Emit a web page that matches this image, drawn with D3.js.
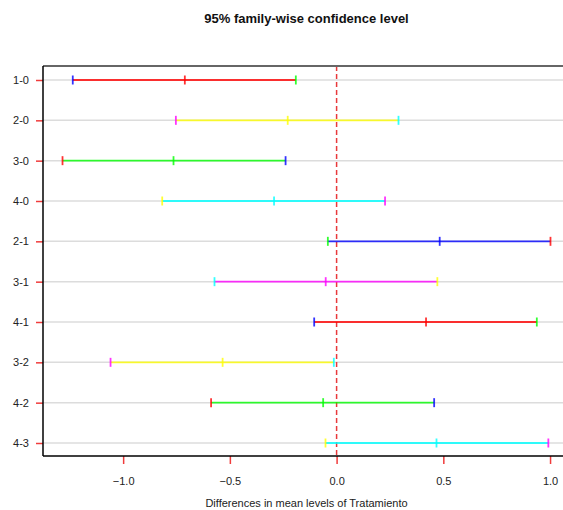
<!DOCTYPE html>
<html>
<head>
<meta charset="utf-8">
<script src="https://cdn.jsdelivr.net/npm/d3@7"></script>
<style>
  body { margin: 0; background: #fff; }
  text { font-family: "Liberation Sans", Arial, sans-serif; }
</style>
</head>
<body>
<div class="canvas"></div>
<script>
// Tukey HSD comparisons
const comparisons = ["1-0", "2-0", "3-0", "4-0", "2-1", "3-1", "4-1", "3-2", "4-2", "4-3"];
const diffs = [-0.711, -0.229, -0.764, -0.293, 0.483, -0.051, 0.419, -0.534, -0.063, 0.468];
const lowers = [-1.236, -0.753, -1.284, -0.817, -0.041, -0.572, -0.105, -1.059, -0.588, -0.052];
const uppers = [-0.191, 0.290, -0.239, 0.227, 1.002, 0.472, 0.938, -0.013, 0.457, 0.992];
const xTicks = [-1.0, -0.5, 0.0, 0.5, 1.0];

// rainbow palette cycled over the rows
const palette = ["#ff0000", "#ffff00", "#00ff00", "#00ffff", "#0000ff", "#ff00ff"];

// margins and dimensions
const w = 563;
const h = 510;
const margin = { top: 66, right: -7, bottom: 54, left: 43 };
const graphWidth = w - margin.left - margin.right;
const graphHeight = h - margin.top - margin.bottom;

const svg = d3.select(".canvas").append("svg").attr("width", w).attr("height", h);

const graph = svg.append("g").attr("transform", `translate(${margin.left}, ${margin.top})`);

// x scale padded by 4% like base R
const lo = d3.min(lowers);
const hi = d3.max(uppers);
const pad = (hi - lo) * 0.04;
const x = d3.scaleLinear().domain([lo - pad, hi + pad]).range([0, graphWidth]);

// rows, first comparison on top
const y = d3.scalePoint().domain(comparisons).range([14, graphHeight - 13]);

const rows = comparisons.map((c, i) => ({ c, i, diff: diffs[i], lwr: lowers[i], upr: uppers[i] }));

// horizontal grid lines
graph
  .selectAll(".grid")
  .data(rows)
  .enter()
  .append("line")
  .attr("class", "grid")
  .attr("x1", 0)
  .attr("x2", graphWidth)
  .attr("y1", (d) => y(d.c))
  .attr("y2", (d) => y(d.c))
  .attr("stroke", "#dcdcdc")
  .attr("stroke-width", 1.5);

// zero reference line
graph
  .append("line")
  .attr("x1", x(0))
  .attr("x2", x(0))
  .attr("y1", 0)
  .attr("y2", graphHeight)
  .attr("stroke", "#e8393b")
  .attr("stroke-width", 1.5)
  .attr("stroke-dasharray", "5,3");

// interval segments
graph
  .selectAll(".seg")
  .data(rows)
  .enter()
  .append("line")
  .attr("class", "seg")
  .attr("x1", (d) => x(d.lwr))
  .attr("x2", (d) => x(d.upr))
  .attr("y1", (d) => y(d.c))
  .attr("y2", (d) => y(d.c))
  .attr("stroke", (d) => palette[d.i % 6])
  .attr("stroke-opacity", 0.8)
  .attr("stroke-width", 1.8);

// end and centre ticks: colours shift two steps along the palette
const marks = [];
rows.forEach((d) => {
  marks.push({ c: d.c, v: d.lwr, col: palette[(d.i + 4) % 6] });
  marks.push({ c: d.c, v: d.diff, col: palette[d.i % 6] });
  marks.push({ c: d.c, v: d.upr, col: palette[(d.i + 2) % 6] });
});

graph
  .selectAll(".mark")
  .data(marks)
  .enter()
  .append("line")
  .attr("class", "mark")
  .attr("x1", (d) => x(d.v))
  .attr("x2", (d) => x(d.v))
  .attr("y1", (d) => y(d.c) - 4.5)
  .attr("y2", (d) => y(d.c) + 4.5)
  .attr("stroke", (d) => d.col)
  .attr("stroke-opacity", 0.8)
  .attr("stroke-width", 1.8);

// axes
const xAxis = d3.axisBottom(x).tickValues(xTicks).tickFormat(d3.format(".1f")).tickSize(8).tickPadding(13);
const yAxis = d3.axisLeft(y).tickSize(7).tickPadding(7);

const gx = graph.append("g").attr("transform", `translate(0, ${graphHeight})`).call(xAxis);
const gy = graph.append("g").call(yAxis);

[gx, gy].forEach((g) => {
  g.select(".domain").remove();
  g.selectAll(".tick line").attr("stroke", "#f03c3c").attr("stroke-width", 1.5);
  g.selectAll(".tick text").attr("fill", "#222").style("font-size", "11px");
});

// frame: grey top, black left and bottom
graph.append("line").attr("x1", 0).attr("x2", graphWidth).attr("y1", 0).attr("y2", 0)
  .attr("stroke", "#666").attr("stroke-width", 2);
graph.append("line").attr("x1", 0).attr("x2", 0).attr("y1", 0).attr("y2", graphHeight)
  .attr("stroke", "#000").attr("stroke-width", 1.5);
graph.append("line").attr("x1", 0).attr("x2", graphWidth).attr("y1", graphHeight).attr("y2", graphHeight)
  .attr("stroke", "#000").attr("stroke-width", 1.5);

// titles
svg
  .append("text")
  .attr("x", margin.left + graphWidth / 2)
  .attr("y", 23)
  .attr("text-anchor", "middle")
  .style("font-weight", "bold")
  .style("font-size", "13px")
  .attr("fill", "#111")
  .text("95% family-wise confidence level");

svg
  .append("text")
  .attr("x", margin.left + graphWidth / 2)
  .attr("y", 507)
  .attr("text-anchor", "middle")
  .style("font-size", "11px")
  .attr("fill", "#222")
  .text("Differences in mean levels of Tratamiento");
</script>
</body>
</html>
